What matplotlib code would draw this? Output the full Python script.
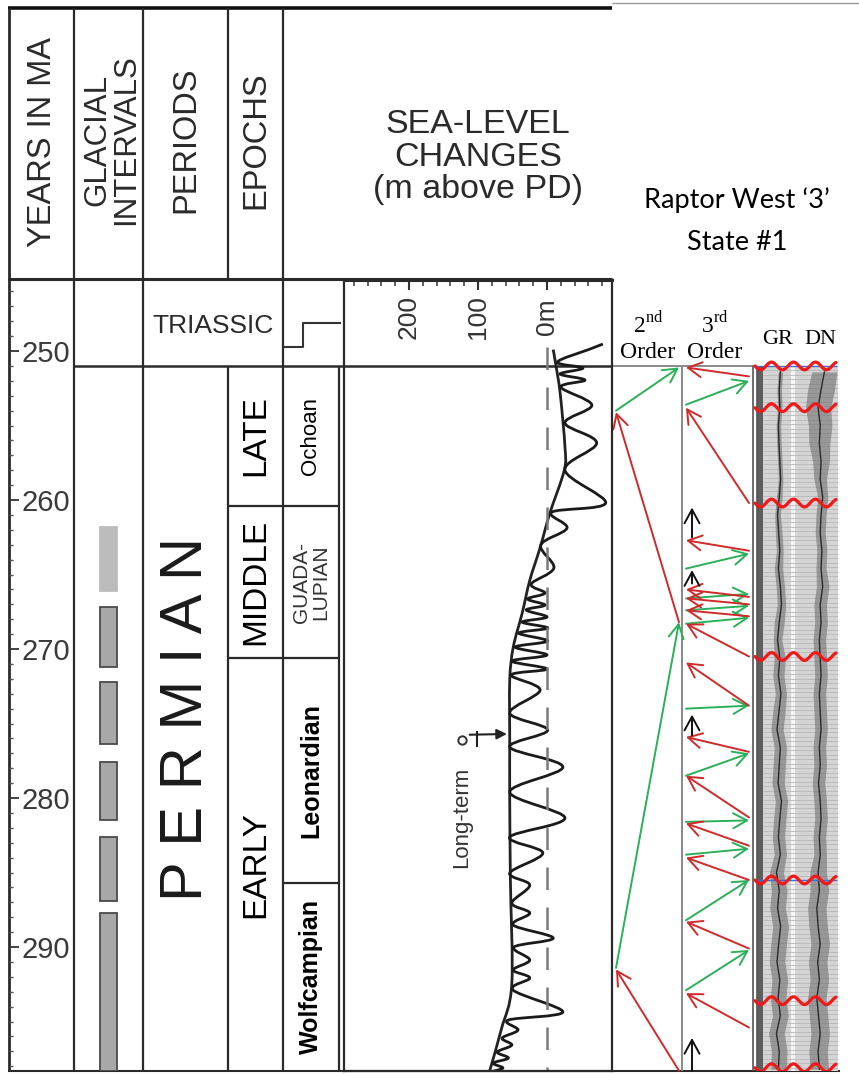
import numpy as np
import matplotlib.pyplot as plt
from matplotlib.path import Path
from matplotlib.patches import PathPatch, Rectangle
from matplotlib.ticker import MultipleLocator

plt.rcParams['font.family'] = ['Liberation Sans', 'DejaVu Sans']
plt.rcParams['mathtext.fontset'] = 'custom'
plt.rcParams['mathtext.rm'] = 'Liberation Serif'

W, H = 859, 1074
AGE_TOP, AGE_BOT = 245.23, 298.32   # ages at header line and at bottom frame

# ---------------- data (ages in Ma) ----------------
year_ticks = [250, 260, 270, 280, 290]
triassic_base = 251.0
epoch_bounds = [260.4, 270.6]          # late/middle, middle/early
leon_wolf = 285.7                       # Leonardian / Wolfcampian

glacial_start = [261.8, 267.2, 272.2, 277.6, 282.6, 287.7]
glacial_end = [266.1, 271.2, 276.4, 281.5, 286.9, 298.3]

# sea level, m above present day
lt_age = [249.9, 250.7, 252.8, 256.4, 258.0, 260.9, 263.2, 265.4, 267.6, 269.9,
          272.1, 276.0, 280.0, 285.5, 292.5, 295.5, 298.3]
lt_level = [-9, -12, -19, -26, -25, -4, 10, 25, 36, 49, 54, 54, 54, 53, 51, 66, 83]

st_age = [249.53, 249.87, 250.74, 251.14, 251.54, 251.95, 252.42, 253.62, 254.83, 256.17,
          257.99, 260.20, 260.81, 261.88, 263.02, 264.56, 265.64, 266.24, 266.64, 267.05,
          267.38, 267.85, 268.19, 268.59, 268.93, 269.46, 269.87, 270.40, 270.81, 271.34,
          271.74, 272.75, 274.30, 275.44, 276.58, 277.92, 279.60, 281.34, 282.62, 283.69,
          285.03, 285.84, 287.05, 287.72, 288.52, 289.40, 290.00, 290.87, 291.54, 292.08,
          292.89, 294.36, 294.90, 295.57, 296.11, 296.58, 297.05, 297.45, 297.79, 298.12, 298.39]
st_level = [-81, -62, -15, -52, -19, -55, -20, -65, -26, -72,
            -26, -85, -7, -29, 9, -10, 23, 3, 28, 3,
            30, 0, 36, -1, 41, -1, 46, 0, 51, 0,
            52, 10, 54, -1, 54, -23, 54, -26, 54, 6,
            54, 25, 51, 25, 49, -9, 48, 25, 49, 25,
            49, -23, 56, 42, 65, 51, 72, 56, 78, 64, 83]

sl_ticks = [200, 100, 0]
sl_tick_labels = ['200', '100', '0m']

# sequence arrows: (tail age, head age)
o2_green = [(254.0, 251.1), (291.4, 268.2)]
o2_red = [(268.2, 254.1), (298.3, 291.5)]
o3_green = [(253.6, 252.0), (264.6, 263.6), (266.6, 266.3), (267.4, 267.1), (268.3, 267.9),
            (274.0, 273.8), (278.5, 277.0), (281.6, 281.5), (283.8, 283.4), (288.2, 285.5),
            (292.9, 290.2)]
o3_red = [(251.7, 251.1), (260.2, 253.8), (263.4, 262.7), (266.5, 266.0), (267.0, 266.6),
          (267.8, 267.4), (270.5, 268.3), (273.8, 270.9), (276.9, 275.9), (281.3, 278.5),
          (283.2, 281.7), (285.5, 284.0), (290.1, 288.3), (295.4, 293.1)]
o3_black = [(262.5, 260.5), (265.6, 264.7), (275.8, 274.4), (298.3, 296.1)]

unconformities = [251.0, 253.8, 260.2, 270.5, 285.5, 293.6, 298.1]

# well log (track fraction)
log_age = [251.4, 252.6, 253.8, 255.0, 256.2, 257.4, 258.6, 259.8, 261.0, 262.2,
           263.4, 264.6, 265.8, 267.0, 268.2, 269.4, 270.6, 271.8, 273.0, 274.2,
           275.4, 276.6, 277.8, 279.0, 280.2, 281.4, 282.6, 283.8, 285.0, 286.2,
           287.4, 288.6, 289.8, 291.0, 292.2, 293.4, 294.6, 295.8, 297.0, 298.2]
gr = [0.62, 0.58, 0.60, 0.55, 0.57, 0.60, 0.63, 0.58, 0.52, 0.56,
      0.60, 0.55, 0.62, 0.66, 0.58, 0.52, 0.60, 0.55, 0.64, 0.57,
      0.50, 0.62, 0.58, 0.54, 0.66, 0.60, 0.55, 0.62, 0.48, 0.58,
      0.52, 0.63, 0.56, 0.50, 0.60, 0.54, 0.62, 0.48, 0.58, 0.55]
gr_w = [0.08, 0.08, 0.08, 0.08, 0.08, 0.08, 0.08, 0.10, 0.10, 0.12,
        0.12, 0.15, 0.15, 0.15, 0.18, 0.15, 0.20, 0.20, 0.20, 0.22,
        0.22, 0.22, 0.22, 0.22, 0.22, 0.22, 0.22, 0.22, 0.25, 0.28,
        0.28, 0.28, 0.28, 0.28, 0.28, 0.28, 0.28, 0.28, 0.28, 0.28]
dn = [0.70, 0.62, 0.55, 0.60, 0.58, 0.62, 0.60, 0.66, 0.62, 0.60,
      0.64, 0.62, 0.66, 0.60, 0.62, 0.58, 0.60, 0.62, 0.58, 0.60,
      0.62, 0.58, 0.60, 0.56, 0.60, 0.62, 0.58, 0.60, 0.55, 0.58,
      0.52, 0.55, 0.60, 0.54, 0.58, 0.52, 0.56, 0.60, 0.55, 0.58]
dn_w = [0.30, 0.32, 0.30, 0.28, 0.25, 0.20, 0.15, 0.12, 0.12, 0.12,
        0.12, 0.12, 0.15, 0.15, 0.15, 0.15, 0.15, 0.15, 0.15, 0.15,
        0.15, 0.15, 0.15, 0.15, 0.15, 0.15, 0.15, 0.15, 0.20, 0.22,
        0.22, 0.22, 0.22, 0.22, 0.22, 0.22, 0.22, 0.22, 0.22, 0.22]


def smooth(a, xs, ys, **kw):
    P = np.column_stack([xs, ys]).astype(float)
    n = len(P)
    verts, codes = [P[0]], [Path.MOVETO]
    for i in range(n - 1):
        p0, p1, p2, p3 = P[max(i - 1, 0)], P[i], P[i + 1], P[min(i + 2, n - 1)]
        verts += [p1 + (p2 - p0) / 6, p2 - (p3 - p1) / 6, p2]
        codes += [Path.CURVE4] * 3
    a.add_patch(PathPatch(Path(verts, codes), fill=False, **kw))


fig = plt.figure(figsize=(W / 100, H / 100), dpi=100)
lay = fig.add_axes([0, 0, 1, 1])
lay.set_xlim(0, W)
lay.set_ylim(H, 0)
lay.axis('off')


def place(x0, y0, x1, y1):
    a = fig.add_axes([x0 / W, 1 - y1 / H, (x1 - x0) / W, (y1 - y0) / H])
    a.set_ylim(AGE_BOT, AGE_TOP)
    a.patch.set_alpha(0)
    return a


def vline(x, y0, y1, lw=1.6, c='#2a2a2a'):
    lay.plot([x, x], [y0, y1], color=c, lw=lw, solid_capstyle='butt')


def hline(y, x0, x1, lw=1.6, c='#2a2a2a'):
    lay.plot([x0, x1], [y, y], color=c, lw=lw, solid_capstyle='butt')


# frame in the header
hline(8, 8, 612, lw=2.6, c='#111')
hline(3, 612, 859, lw=1, c='#9a9a9a')
vline(9, 8, 1071, lw=2)
vline(74, 8, 1071)
vline(143, 8, 1071)
vline(228, 8, 279)
vline(283, 8, 1071)
hline(279, 8, 612, lw=2.2)
hline(1071, 8, 840, lw=1.5)
# triassic step symbol
lay.plot([285, 303, 303, 340], [347, 347, 323, 323], color='#333', lw=1.5)

# header text
lay.text(43, 142, 'YEARS IN MA', rotation=90, ha='center', va='center', size=23.5, color='#2a2a2a')
lay.text(112, 140, 'GLACIAL\nINTERVALS', rotation=90, ha='center', va='center', size=22.5,
         color='#2a2a2a', linespacing=0.95, multialignment='center')
lay.text(186, 140, 'PERIODS', rotation=90, ha='center', va='center', size=23.5, color='#2a2a2a')
lay.text(256, 140, 'EPOCHS', rotation=90, ha='center', va='center', size=23.5, color='#2a2a2a')
lay.text(478, 157, 'SEA-LEVEL\nCHANGES\n(m above PD)', ha='center', va='center', size=24.5,
         color='#2a2a2a', linespacing=1.05)
lay.text(737, 200, 'Raptor West \u20183\u2019', ha='center', va='center', size=19.5, family='Lato')
lay.text(737, 243, 'State #1', ha='center', va='center', size=19.5, family='Lato')
lay.text(213, 326, 'TRIASSIC', ha='center', va='center', size=19, color='#2a2a2a')
for xc, sup in [(648, 'nd'), (715, 'rd')]:
    lay.text(xc, 325, ('2' if sup == 'nd' else '3') + r'$^{\mathrm{' + sup + '}}$',
             ha='center', va='center', size=17, family='Liberation Serif')
    lay.text(xc, 353, 'Order', ha='center', va='center', size=17, family='Liberation Serif')
lay.text(778, 340, 'GR', ha='center', va='center', size=16, family='Liberation Serif')
lay.text(820, 340, 'DN', ha='center', va='center', size=16, family='Liberation Serif')

# ---------------- backgrounds (log track) ----------------
base = place(9, 280, W, 1071)
base.set_xlim(9, W)
base.axis('off')
base.add_patch(Rectangle((757, triassic_base), 81, AGE_BOT - triassic_base, color='#d4d4d4', lw=0))
base.add_patch(Rectangle((757, triassic_base), 6, AGE_BOT - triassic_base, color='#5e5e5e', lw=0))
base.add_patch(Rectangle((791, triassic_base), 4, AGE_BOT - triassic_base, color='#f4f4f4', lw=0))
base.hlines(np.arange(triassic_base, AGE_BOT, 0.3), 763, 838, color='#b8b8b8', lw=0.6)

gr_ax = place(763, 280, 791, 1071)
gr_ax.set_xlim(0, 1)
gr_ax.axis('off')
gr_ax.fill_betweenx(log_age, np.subtract(gr, gr_w), np.add(gr, gr_w), color='#707070', alpha=0.6, lw=0)
gr_ax.plot(gr, log_age, color='#2a2a2a', lw=1.0)

dn_ax = place(795, 280, 837, 1071)
dn_ax.set_xlim(0, 1)
dn_ax.axis('off')
dn_ax.fill_betweenx(log_age, np.subtract(dn, dn_w), np.add(dn, dn_w), color='#707070', alpha=0.6, lw=0)
dn_ax.plot(dn, log_age, color='#2a2a2a', lw=1.0)

# ---------------- main age axes ----------------
ax = place(9, 280, W, 1071)
ax.set_xlim(9, W)
for s in ax.spines.values():
    s.set_visible(False)
ax.set_xticks([])
ax.set_yticks(year_ticks)
ax.set_yticklabels([str(t) for t in year_ticks])
ax.yaxis.set_minor_locator(MultipleLocator(1))
ax.tick_params(axis='y', which='major', direction='in', length=7, width=1.3, color='#333',
               pad=-44, labelsize=21, labelcolor='#3a3a3a')
ax.tick_params(axis='y', which='minor', direction='in', length=3, width=1, color='#555')

# stratigraphic boxes
ax.hlines(triassic_base, 74, 612, color='#2a2a2a', lw=1.8)
ax.hlines(triassic_base, 612, 757, color='#777', lw=1.2)
ax.vlines([228, 339], triassic_base, AGE_BOT, color='#2a2a2a', lw=1.6)
ax.hlines(epoch_bounds, 228, 339, color='#2a2a2a', lw=1.6)
ax.hlines(leon_wolf, 283, 339, color='#2a2a2a', lw=1.6)
ax.vlines(682, triassic_base, AGE_BOT, color='#888', lw=1.4)
ax.vlines([753, 757], triassic_base, AGE_BOT, color='#555', lw=1.2)

# glacial intervals
edges = ['#bcbcbc'] + ['#4a4a4a'] * (len(glacial_start) - 1)
fills = ['#bcbcbc'] + ['#a8a8a8'] * (len(glacial_start) - 1)
ax.bar(108.5, np.subtract(glacial_end, glacial_start), bottom=glacial_start, width=17,
       color=fills, edgecolor=edges, lw=1.3)

mid = lambda a, b: (a + b) / 2
ax.text(187, mid(triassic_base, AGE_BOT), 'P E R M I A N', rotation=90, ha='center', va='center',
        size=43, color='#1a1a1a')
ax.text(256, mid(triassic_base, epoch_bounds[0]), 'LATE', rotation=90, ha='center', va='center', size=24)
ax.text(256, mid(*epoch_bounds), 'MIDDLE', rotation=90, ha='center', va='center', size=24)
ax.text(256, mid(epoch_bounds[1], AGE_BOT), 'EARLY', rotation=90, ha='center', va='center', size=24)
ax.text(311, mid(triassic_base, epoch_bounds[0]), 'Ochoan', rotation=90, ha='center', va='center', size=16)
ax.text(311, mid(*epoch_bounds), 'GUADA-\nLUPIAN', rotation=90, ha='center', va='center', size=15,
        linespacing=1.0, color='#333')
ax.text(311, mid(epoch_bounds[1], leon_wolf), 'Leonardian', rotation=90, ha='center', va='center',
        size=18, weight='bold')
ax.text(311, mid(leon_wolf, AGE_BOT), 'Wolfcampian', rotation=90, ha='center', va='center',
        size=18, weight='bold')

# sequence arrows
def arrow(x0, y0, x1, y1, c):
    ax.annotate('', xy=(x1, y1), xytext=(x0, y0), annotation_clip=False,
                arrowprops=dict(arrowstyle='->,head_length=0.55,head_width=0.3', color=c, lw=1.4,
                                shrinkA=0, shrinkB=0, mutation_scale=18))

RED, GREEN = '#d02a2a', '#2bb05a'
for t, h in o2_green:
    arrow(616, t, 679, h, GREEN)
for t, h in o2_red:
    arrow(679, t, 616, h, RED)
for t, h in o3_green:
    arrow(686, t, 749, h, GREEN)
for t, h in o3_red:
    arrow(749, t, 686, h, RED)
for t, h in o3_black:
    arrow(692, t, 692, h, '#111')

# unconformities
for u in unconformities:
    xs = np.linspace(755, 836, 120)
    if u in (251.0, 285.5):
        ax.plot([755, 836], [u, u], color='#3c6fd0', lw=1.0)
    ax.plot(xs, u + 0.26 * np.sin(2 * np.pi * (xs - 755) / 22), color='#f01818', lw=2.3,
            solid_capstyle='round')

# ---------------- sea level ----------------
sl = place(344, 280, 612, 1071)
sl.set_xlim(294.1, -94.2)
for k, s in sl.spines.items():
    s.set_color('#2a2a2a')
    s.set_linewidth(2.2 if k == 'top' else 1.6)
sl.set_yticks([])
sl.xaxis.set_ticks_position('top')
sl.set_xticks(sl_ticks)
sl.set_xticklabels([])
sl.xaxis.set_minor_locator(MultipleLocator(20))
sl.tick_params(axis='x', which='major', direction='in', length=7, width=1.5, color='#333')
sl.tick_params(axis='x', which='minor', direction='in', length=4.5, width=1.2, color='#444')
for v, lab in zip(sl_ticks, sl_tick_labels):
    sl.text(v, 247.72, lab, rotation=90, ha='center', va='center', size=19, color='#333')

sl.plot([0, 0], [249.7, AGE_BOT], color='#7a7a7a', lw=1.8, dashes=(9, 7))
smooth(sl, lt_level, lt_age, color='#222', lw=2.0)
smooth(sl, st_level, st_age, color='#1a1a1a', lw=2.0)

sl.text(124, 281.3, 'Long-term', rotation=90, ha='center', va='center', size=16, color='#333')
sl.annotate('', xy=(58, 275.7), xytext=(112, 275.75),
            arrowprops=dict(arrowstyle='-|>,head_length=0.5,head_width=0.25', color='#222', lw=1.5,
                            shrinkA=0, shrinkB=0, mutation_scale=12))
sl.plot([101, 101], [275.6, 276.5], color='#222', lw=1.5)
sl.plot([123], [276.1], marker='o', ms=6, mfc='none', mec='#333', mew=1.4)

fig.savefig('out.png', dpi=100)
